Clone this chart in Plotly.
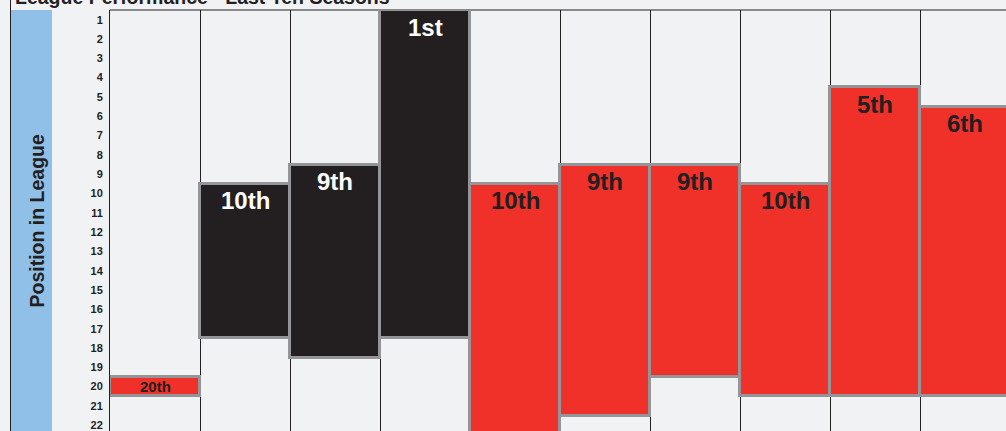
import plotly.graph_objects as go

# ---- data -------------------------------------------------------------
seasons = ["Season 1", "Season 2", "Season 3", "Season 4", "Season 5",
           "Season 6", "Season 7", "Season 8", "Season 9", "Season 10"]
finish_position = [20, 10, 9, 1, 10, 9, 9, 10, 5, 6]
lowest_position = [20, 17, 18, 17, 23, 21, 19, 20, 20, 20]
finish_labels = ["20th", "10th", "9th", "1st", "10th", "9th", "9th", "10th", "5th", "6th"]
season_group = ["B", "A", "A", "A", "B", "B", "B", "B", "B", "B"]
position_ticks = [1, 2, 3, 4, 5, 6, 7, 8, 9, 10, 11, 12, 13, 14, 15, 16, 17, 18, 19, 20, 21, 22]

# ---- styles -----------------------------------------------------------
FILL = {"A": "#231f20", "B": "#ef3129"}
TEXT = {"A": "#ffffff", "B": "#231f20"}
BORDER = "#939598"
INK = "#231f20"
BG = "#f1f2f4"
BAND = "#90bfe8"
FONT = "Liberation Sans, Arial, sans-serif"

n = len(seasons)
x_centers = [i + 0.5 for i in range(n)]
bar_base = [f - 0.5 for f in finish_position]
bar_len = [lo - f + 1 for f, lo in zip(finish_position, lowest_position)]

fig = go.Figure()
fig.add_trace(go.Bar(
    x=x_centers, y=bar_len, base=bar_base, width=1,
    marker=dict(color=[FILL[g] for g in season_group],
                line=dict(color=BORDER, width=3)),
    customdata=seasons, hovertemplate="%{customdata}<extra></extra>",
    showlegend=False,
))

annotations = []
for xc, f, ln, lab, g in zip(x_centers, finish_position, bar_len, finish_labels, season_group):
    if ln > 2:
        annotations.append(dict(x=xc, y=f - 0.5, xref="x", yref="y", text=lab,
                                showarrow=False, yanchor="middle", yshift=-17,
                                font=dict(family=FONT, size=24, color=TEXT[g], weight="bold")))
    else:
        annotations.append(dict(x=xc, y=f, xref="x", yref="y", text=lab,
                                showarrow=False, yanchor="middle",
                                font=dict(family=FONT, size=15, color=TEXT[g], weight="bold")))

PLOT_W = 896
L = 110


def px_to_paper_x(px):
    return (px - L) / PLOT_W


annotations.append(dict(
    x=px_to_paper_x(13), y=1.031, xref="paper", yref="paper", xanchor="left", yanchor="middle",
    text="League Performance - Last Ten Seasons", showarrow=False,
    font=dict(family=FONT, size=19.5, color=INK, weight="bold")))
annotations.append(dict(
    x=px_to_paper_x(36), y=0.5, xref="paper", yref="paper", xanchor="center", yanchor="middle",
    text="Position in League", textangle=-90, showarrow=False,
    font=dict(family=FONT, size=19.5, color=INK, weight="bold")))

shapes = [
    dict(type="rect", xref="paper", yref="paper", x0=px_to_paper_x(11), x1=px_to_paper_x(52),
         y0=-0.05, y1=1, fillcolor=BAND, line=dict(width=0), layer="below"),
    dict(type="line", xref="paper", yref="paper", x0=px_to_paper_x(10.5), x1=px_to_paper_x(10.5),
         y0=-0.05, y1=1.1, line=dict(color=INK, width=1), layer="below"),
    dict(type="line", xref="paper", yref="paper", x0=0, x1=1, y0=1, y1=1,
         line=dict(color=INK, width=1), layer="below"),
]

fig.update_layout(
    width=1006, height=431,
    margin=dict(l=L, r=0, t=10, b=0, pad=0),
    paper_bgcolor=BG, plot_bgcolor=BG,
    bargap=0,
    annotations=annotations,
    shapes=shapes,
    xaxis=dict(range=[0, PLOT_W / 90], tickmode="array",
               tickvals=list(range(n + 1)), showticklabels=False,
               showgrid=True, gridcolor=INK, gridwidth=1,
               zeroline=False, showline=False, fixedrange=True),
    yaxis=dict(range=[22.3, 0.5], tickmode="array", tickvals=position_ticks,
               ticktext=[str(t) for t in position_ticks],
               tickfont=dict(family=FONT, size=11, color=INK, weight="bold"),
               ticks="", ticklabelstandoff=4, ticklabeloverflow="allow",
               showgrid=False, zeroline=False,
               showline=True, linecolor=INK, linewidth=1, fixedrange=True),
)

fig.write_html(
    "out.html",
    config={"displayModeBar": False},
    post_script="document.body.style.margin='0';document.body.style.overflow='hidden';"
                "document.documentElement.style.background='" + BG + "';",
)
